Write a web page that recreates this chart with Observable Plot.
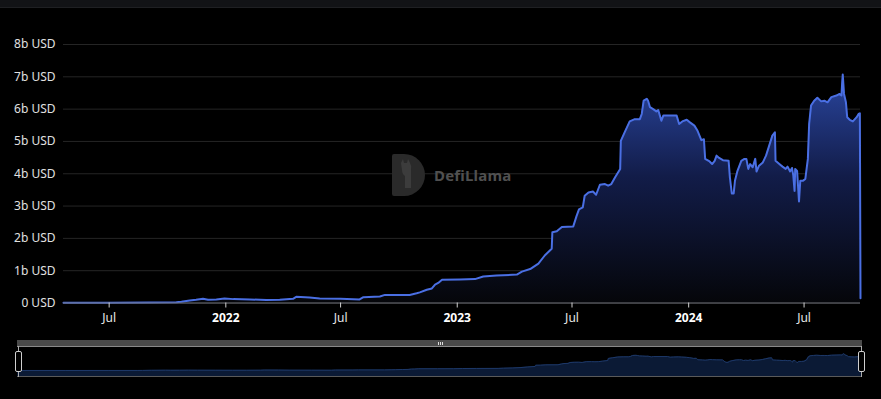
<!DOCTYPE html>
<html><head><meta charset="utf-8">
<script src="https://cdn.jsdelivr.net/npm/d3@7"></script>
<script src="https://cdn.jsdelivr.net/npm/@observablehq/plot@0.6"></script>
<style>
html,body{margin:0;padding:0;background:#000;width:881px;height:399px;overflow:hidden;font-family:"Noto Sans",sans-serif;}
#wrap{position:relative;width:881px;height:399px;background:#000;}
#topbar{position:absolute;left:0;top:0;width:881px;height:7px;background:#121316;border-bottom:1px solid #1f2023;}
#main{position:absolute;left:0;top:0;}
#mini{position:absolute;left:0;top:340px;}
#wm{position:absolute;left:392px;top:154px;height:42px;display:flex;align-items:center;pointer-events:none;}
#wm span{margin-left:9px;font-weight:700;font-size:15px;color:#505050;letter-spacing:0.2px;}
.bar{position:absolute;left:17px;top:340px;width:845px;height:6px;background:#4a4a4a;border-bottom:1px solid #8a8a8a;}
.boxline{position:absolute;left:17px;width:845px;height:1px;background:#5a5a5a;}
.vline{position:absolute;top:346px;width:1px;height:31px;background:#aaa;}
.handle{position:absolute;top:351px;width:5px;height:19px;border:1px solid #cfcfcf;border-radius:2px;background:#000;}
.grip{position:absolute;top:342px;width:1px;height:3px;background:#ddd;}
</style></head>
<body><div id="wrap">
<div id="topbar"></div>
<div id="main"></div>
<div id="wm">
<svg width="33" height="42" viewBox="0 0 33 42"><path d="M0,2 Q0,0 2,0 H12 A21,21 0 0 1 12,42 H2 Q0,42 0,40 Z" fill="#2a2a2a"/><path d="M9,9 L11,5 L12,9 H15 L16,5 L18,9 Q20,12 19,16 L19,34 H13 L13,22 Q10,20 10,16 Z" fill="#3c3c3c"/></svg>
<span>DefiLlama</span></div>
<div id="mini"></div>
<div class="bar"></div>
<div class="boxline" style="top:376px"></div>
<div class="vline" style="left:18px"></div>
<div class="vline" style="left:861px"></div>
<div class="handle" style="left:15px"></div>
<div class="handle" style="left:858px"></div>
<div class="grip" style="left:438px"></div>
<div class="grip" style="left:440px"></div>
<div class="grip" style="left:442px"></div>
</div>
<script>
// TVL in billions USD
const dates = [
"2021-04-20","2021-07-01","2021-09-03","2021-10-15","2021-10-23","2021-11-05","2021-11-15","2021-11-26","2021-12-04","2021-12-17","2021-12-30",
"2022-01-13","2022-02-08","2022-03-06","2022-03-27","2022-04-17","2022-04-22","2022-05-13","2022-05-29","2022-07-01","2022-07-31","2022-08-06","2022-09-01","2022-09-09","2022-10-18","2022-10-29","2022-11-03","2022-11-14","2022-11-22","2022-11-27","2022-12-02","2022-12-08",
"2023-01-05","2023-01-29","2023-02-11","2023-03-04","2023-04-05","2023-04-13","2023-04-26","2023-05-09","2023-05-19","2023-05-30","2023-05-31","2023-06-07","2023-06-15","2023-07-03","2023-07-08","2023-07-12","2023-07-18","2023-07-21","2023-07-27","2023-08-03","2023-08-08","2023-08-14","2023-08-22","2023-08-27","2023-09-01","2023-09-07","2023-09-15","2023-09-16","2023-09-22","2023-09-30","2023-10-08","2023-10-16","2023-10-19","2023-10-22","2023-10-27","2023-10-29","2023-11-01","2023-11-06","2023-11-11","2023-11-14","2023-11-19","2023-11-22","2023-12-13","2023-12-17","2023-12-22","2023-12-29",
"2024-01-03","2024-01-10","2024-01-15","2024-01-21","2024-01-25","2024-01-27","2024-02-03","2024-02-07","2024-02-11","2024-02-14","2024-02-18","2024-02-24","2024-03-04","2024-03-06","2024-03-09","2024-03-12","2024-03-14","2024-03-18","2024-03-24","2024-03-29","2024-04-01","2024-04-04","2024-04-07","2024-04-11","2024-04-15","2024-04-17","2024-04-21","2024-04-27","2024-05-02","2024-05-07","2024-05-12","2024-05-16","2024-05-17","2024-05-23","2024-05-28","2024-06-02","2024-06-05","2024-06-09","2024-06-12","2024-06-14","2024-06-16","2024-06-17","2024-06-20","2024-06-21","2024-06-23","2024-06-25","2024-06-29","2024-07-03","2024-07-07","2024-07-09","2024-07-12","2024-07-17","2024-07-22","2024-07-28","2024-08-02","2024-08-07","2024-08-13","2024-08-21","2024-08-26","2024-08-29","2024-08-30","2024-08-31","2024-09-02","2024-09-05","2024-09-07","2024-09-11","2024-09-16","2024-09-22","2024-09-25","2024-09-27","2024-09-28"
];
const tvl = [
0.005,0.008,0.015,0.02,0.04,0.08,0.10,0.13,0.10,0.11,0.14,
0.12,0.11,0.09,0.10,0.13,0.19,0.17,0.14,0.13,0.11,0.18,0.20,0.25,0.25,0.30,0.33,0.41,0.45,0.57,0.62,0.72,
0.73,0.74,0.82,0.85,0.88,0.97,1.05,1.22,1.47,1.68,2.19,2.22,2.35,2.37,2.68,2.90,2.96,3.32,3.42,3.45,3.35,3.66,3.68,3.63,3.68,3.89,4.15,5.02,5.28,5.62,5.69,5.69,5.85,6.26,6.32,6.26,6.06,6.00,5.93,5.97,5.64,5.80,5.80,5.54,5.62,5.67,
5.59,5.49,5.33,5.04,5.07,4.46,4.38,4.30,4.40,4.56,4.49,4.42,4.40,3.89,3.39,3.39,3.78,4.09,4.40,4.46,4.46,4.15,4.30,4.20,4.46,4.07,4.25,4.35,4.56,4.87,5.18,5.28,4.40,4.30,4.22,4.15,4.22,4.07,4.18,3.94,3.47,4.15,4.09,3.78,3.14,3.78,3.78,3.84,4.46,5.54,6.11,6.26,6.35,6.24,6.26,6.21,6.37,6.42,6.47,6.42,6.78,7.07,6.47,6.21,5.75,5.67,5.62,5.75,5.85,5.87,0.15
];
const yTicks = [0,1,2,3,4,5,6,7,8];
const julTicks = ["2021-07-01","2022-07-01","2023-07-01","2024-07-01"];
const yearTicks = ["2022-01-01","2023-01-01","2024-01-01"];
const xDomain = ["2021-04-20","2024-09-28"];

const data = dates.map((d,i)=>({date:new Date(d), v:tvl[i]}));
const xd = xDomain.map(d=>new Date(d));

const defs = () => {
  const s = d3.create("svg:defs");
  const g = s.append("linearGradient").attr("id","tvlg").attr("x1",0).attr("y1",0).attr("x2",0).attr("y2",1);
  g.append("stop").attr("offset","0%").attr("stop-color","#2a46a0");
  g.append("stop").attr("offset","45%").attr("stop-color","#121c48");
  g.append("stop").attr("offset","100%").attr("stop-color","#05060a");
  return s.node();
};

const main = Plot.plot({
  width:881, height:330,
  marginLeft:63, marginRight:21, marginTop:44, marginBottom:27.5,
  style:{background:"transparent", color:"#e0e0e0", fontFamily:"'Noto Sans', sans-serif", fontSize:"12px"},
  x:{type:"utc", domain:xd},
  y:{domain:[0,8]},
  marks:[
    defs,
    Plot.gridY(yTicks,{stroke:"#252525", strokeOpacity:1}),
    Plot.areaY(data,{x:"date", y:"v", fill:"url(#tvlg)", curve:"linear"}),
    Plot.lineY(data,{x:"date", y:"v", stroke:"#4a6fe3", strokeWidth:2, curve:"linear"}),
    Plot.ruleY([0],{stroke:"#6e7079"}),
    Plot.axisY({ticks:yTicks, tickSize:0, tickPadding:8, label:null, fill:"#e0e0e0",
      tickFormat:d => d===0 ? "0 USD" : d + "b USD"}),
    Plot.axisX({ticks:julTicks.map(d=>new Date(d)), tickSize:5, tickPadding:5, label:null, stroke:"#d0d0d0", fill:"#e8e8e8",
      tickFormat:()=> "Jul"}),
    Plot.axisX({ticks:yearTicks.map(d=>new Date(d)), tickSize:5, tickPadding:5, label:null, stroke:"#d0d0d0", fill:"#ffffff", fontWeight:"bold",
      tickFormat:d=> String(d.getUTCFullYear())})
  ]
});
document.getElementById("main").appendChild(main);

const mini = Plot.plot({
  width:881, height:40,
  marginLeft:17, marginRight:19, marginTop:13, marginBottom:4,
  style:{background:"transparent"},
  x:{type:"utc", domain:xd, axis:null},
  y:{domain:[-2.5, 7.07], axis:null},
  marks:[
    Plot.areaY(data,{x:"date", y1:-2.5, y2:"v", fill:"#0b1a35"}),
    Plot.lineY(data,{x:"date", y:"v", stroke:"#1d3868", strokeWidth:1})
  ]
});
document.getElementById("mini").appendChild(mini);
</script>
</body></html>
